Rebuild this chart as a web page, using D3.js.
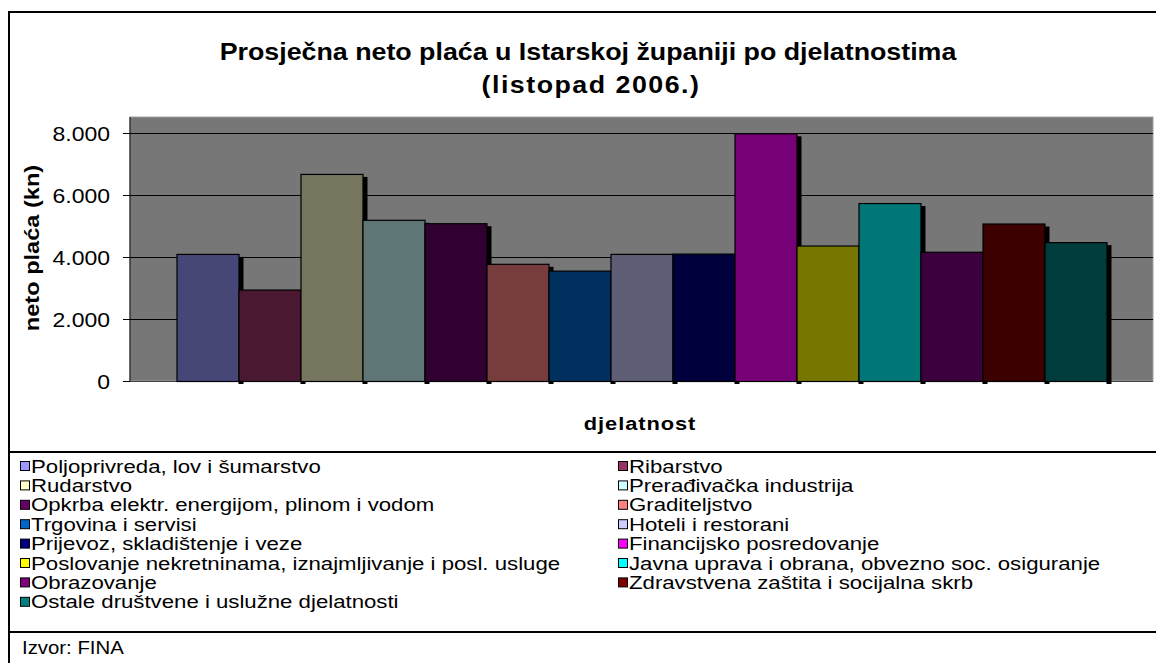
<!DOCTYPE html>
<html>
<head>
<meta charset="utf-8">
<script src="https://cdn.jsdelivr.net/npm/d3@7"></script>
<style>
  body { margin: 0; background: #fff; }
  svg { display: block; font-family: Arial, "Liberation Sans", sans-serif; }
</style>
</head>
<body>
<svg id="chart" width="1156" height="663"></svg>
<script>
const categories = [
  "Poljoprivreda, lov i šumarstvo",
  "Ribarstvo",
  "Rudarstvo",
  "Prerađivačka industrija",
  "Opkrba elektr. energijom, plinom i vodom",
  "Graditeljstvo",
  "Trgovina i servisi",
  "Hoteli i restorani",
  "Prijevoz, skladištenje i veze",
  "Financijsko posredovanje",
  "Poslovanje nekretninama, iznajmljivanje i posl. usluge",
  "Javna uprava i obrana, obvezno soc. osiguranje",
  "Obrazovanje",
  "Zdravstvena zaštita i socijalna skrb",
  "Ostale društvene i uslužne djelatnosti"
];
const values = [4100, 2950, 6680, 5200, 5090, 3780, 3560, 4100, 4110, 7990, 4370, 5740, 4170, 5080, 4480];
const barColors = ["#464677", "#4a1931", "#76765e", "#5e7676", "#300030", "#773c3c", "#00305e", "#5e5e76",
                   "#00003c", "#760076", "#767600", "#007676", "#3c003c", "#3c0000", "#003c3c"];
const legendColors = ["#9999ff", "#993366", "#ffffcc", "#ccffff", "#660066", "#ff8080", "#0066cc", "#ccccff",
                      "#000080", "#ff00ff", "#ffff00", "#00ffff", "#800080", "#800000", "#008080"];
const yTicks = [0, 2000, 4000, 6000, 8000];
const titleLines = ["Prosječna neto plaća u Istarskoj županiji po djelatnostima", "(listopad 2006.)"];
const yTitle = "neto plaća (kn)";
const xTitle = "djelatnost";
const source = "Izvor: FINA";

const svg = d3.select("#chart");
const SX = 1.15; // text in the original is drawn a bit wide
const plot = { left: 130, right: 1153, top: 117, bottom: 381 };
const depth = 5, drop = 3;

const fmt = d => d3.format(",")(d).replace(/,/g, ".");

// outer frame and separators
svg.append("rect").attr("x", 9).attr("y", 12).attr("width", 1160).attr("height", 670)
  .attr("fill", "none").attr("stroke", "#000").attr("stroke-width", 2);
[452, 632].forEach(y => svg.append("line").attr("x1", 9).attr("x2", 1160).attr("y1", y).attr("y2", y)
  .attr("stroke", "#000").attr("stroke-width", 2));

// stretched text helper
const text = (g, x, y, str, size, weight, anchor, sx) => g.append("text")
  .attr("transform", `translate(${x},${y}) scale(${sx || SX},1)`)
  .attr("font-size", size).attr("font-weight", weight || "normal")
  .attr("text-anchor", anchor || "start").text(str);

// title
text(svg, 588, 60, titleLines[0], 23.3, "bold", "middle");
text(svg, 591, 93, titleLines[1], 23.3, "bold", "middle").attr("letter-spacing", 1.3);

const y = d3.scaleLinear().domain([0, 8000]).range([plot.bottom, 133]);
const unit = (plot.right - plot.left) / (categories.length + 1.5);
const x = d3.scaleBand().domain(categories)
  .range([plot.left + unit * 0.75, plot.right - unit * 0.75]).padding(0);

// plot area
svg.append("rect").attr("x", plot.left).attr("y", plot.top)
  .attr("width", plot.right - plot.left).attr("height", plot.bottom - plot.top)
  .attr("fill", "#777777").attr("stroke", "#a0a0a0").attr("stroke-width", 1);

// gridlines + ticks
svg.append("g").selectAll("line.grid").data(yTicks.filter(d => d > 0)).join("line")
  .attr("x1", plot.left).attr("x2", plot.right)
  .attr("y1", d => y(d) + 0.5).attr("y2", d => y(d) + 0.5)
  .attr("stroke", "#000").attr("stroke-width", 1);

const yAxis = svg.append("g").attr("transform", `translate(${plot.left},0)`)
  .call(d3.axisLeft(y).tickValues(yTicks).tickFormat(fmt).tickSize(7).tickPadding(6));
yAxis.select(".domain").attr("stroke", "#000").attr("d", `M0,${plot.top}V${plot.bottom + 1}`);
yAxis.selectAll(".tick line").attr("stroke", "#000");
yAxis.selectAll(".tick text").attr("font-size", 20).attr("fill", "#000")
  .attr("font-family", "Arial, 'Liberation Sans', sans-serif")
  .attr("transform", `scale(${SX},1)`)
  .attr("x", -20 / SX).attr("dy", "0.36em");

svg.append("line").attr("x1", plot.left).attr("x2", plot.right)
  .attr("y1", plot.bottom + 0.5).attr("y2", plot.bottom + 0.5).attr("stroke", "#444");

// bars with 3D side
const bars = svg.append("g");
categories.forEach((c, i) => {
  const x0 = x(c), w = x.bandwidth(), top = y(values[i]);
  bars.append("rect").attr("x", x0 + w).attr("y", top + drop)
    .attr("width", depth).attr("height", plot.bottom - top)
    .attr("fill", "#000");
  bars.append("rect").attr("x", x0 + 0.5).attr("y", top + 0.5)
    .attr("width", w).attr("height", plot.bottom - top)
    .attr("fill", barColors[i]).attr("stroke", "#000").attr("stroke-width", 1.2);
});

// axis titles
svg.append("text").attr("transform", `translate(39,248) rotate(-90) scale(${SX},1)`)
  .attr("font-size", 20.5).attr("font-weight", "bold").attr("text-anchor", "middle").text(yTitle);
text(svg, 640, 430, xTitle, 19, "bold", "middle").attr("letter-spacing", 0.8);

// legend
const legend = svg.append("g");
categories.forEach((c, i) => {
  const col = i % 2, row = Math.floor(i / 2);
  const lx = col === 0 ? 20 : 618, ly = 466 + row * 19.4;
  legend.append("rect").attr("x", lx + 0.5).attr("y", ly - 4.5).attr("width", 9).attr("height", 9)
    .attr("fill", legendColors[i]).attr("stroke", "#000").attr("stroke-width", 1);
  text(legend, lx + 11, ly + 6.5, c, 18.5, "normal", "start", 1.2);
});

text(svg, 22, 654, source, 18.5, "normal", "start", 1.1);
</script>
</body>
</html>
